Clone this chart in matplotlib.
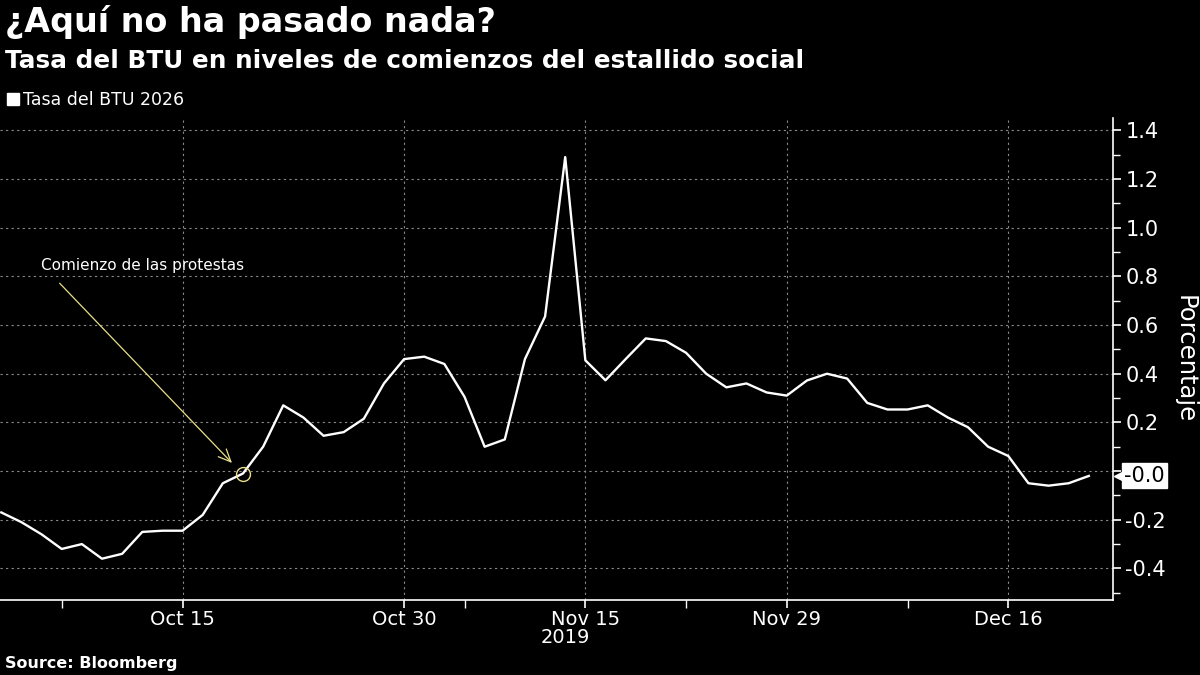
"""
Tasa del BTU 2026 (Chile), oct-dic 2019, estilo Bloomberg.
Salida: out.png (1200x675)
"""

import matplotlib
matplotlib.use("Agg")
import matplotlib.pyplot as plt
from matplotlib.lines import Line2D
from matplotlib.ticker import MultipleLocator, FixedLocator
from matplotlib.transforms import offset_copy
import numpy as np

# días hábiles (31 oct y 1 nov feriados)
dates = [
    "Oct 2", "Oct 3", "Oct 4", "Oct 7", "Oct 8", "Oct 9", "Oct 10", "Oct 11",
    "Oct 14", "Oct 15", "Oct 16", "Oct 17", "Oct 18", "Oct 21", "Oct 22",
    "Oct 23", "Oct 24", "Oct 25", "Oct 28", "Oct 29", "Oct 30",
    "Nov 4", "Nov 6", "Nov 7", "Nov 8", "Nov 11", "Nov 12", "Nov 13",
    "Nov 14", "Nov 15", "Nov 18", "Nov 19", "Nov 20", "Nov 21", "Nov 22",
    "Nov 25", "Nov 26", "Nov 27", "Nov 28", "Nov 29",
    "Dec 2", "Dec 3", "Dec 4", "Dec 5", "Dec 6", "Dec 9", "Dec 10",
    "Dec 11", "Dec 12", "Dec 13", "Dec 16", "Dec 17", "Dec 18", "Dec 19",
    "Dec 20",
]
btu_2026 = [
    -0.17, -0.21, -0.26, -0.32, -0.30, -0.36, -0.34, -0.25,
    -0.245, -0.245, -0.18, -0.05, -0.01, 0.10, 0.27,
    0.22, 0.145, 0.16, 0.215, 0.36, 0.46,
    0.47, 0.44, 0.305, 0.10, 0.13, 0.46, 0.635,
    1.29, 0.455, 0.373, 0.46, 0.545, 0.534, 0.486,
    0.40, 0.344, 0.36, 0.323, 0.31,
    0.372, 0.40, 0.38, 0.28, 0.253, 0.253, 0.27,
    0.22, 0.18, 0.10, 0.062, -0.05, -0.06, -0.05,
    -0.02,
]
tick_dates = ["Oct 15", "Oct 30", "Nov 15", "Nov 29", "Dec 16"]
minor_dates = ["Oct 7", "Nov 7", "Nov 22", "Dec 9"]
year_label = ("Nov 14", "2019")
event_date = "Oct 18"
event_text = "Comienzo de las protestas"

BG = "black"
FG = "white"
YELLOW = "#e8e08a"

plt.rcParams["font.family"] = ["DejaVu Sans"]
plt.rcParams["axes.unicode_minus"] = False


def main():
    x = np.arange(len(dates))
    pos = {d: i for i, d in enumerate(dates)}

    fig = plt.figure(figsize=(12, 6.75), dpi=100, facecolor=BG)
    ax = fig.add_axes([0.0, 0.111, 0.9275, 0.714], facecolor=BG)

    ax.plot(x, btu_2026, color=FG, lw=1.7, zorder=3)

    ax.set_xlim(-0.065, 55.2)
    ax.set_ylim(-0.53, 1.45)

    # ejes
    for side in ("left", "top"):
        ax.spines[side].set_visible(False)
    for side in ("right", "bottom"):
        ax.spines[side].set_color(FG)
        ax.spines[side].set_linewidth(1.2)

    ax.yaxis.tick_right()
    ax.yaxis.set_label_position("right")
    ax.yaxis.set_major_locator(MultipleLocator(0.2))
    ax.yaxis.set_minor_locator(MultipleLocator(0.1))
    ax.yaxis.set_major_formatter(
        lambda v, p: "" if abs(v) < 1e-9 else f"{v:.1f}")
    ax.tick_params(axis="y", which="major", colors=FG, labelsize=15,
                   length=6, width=1.2, pad=3)
    ax.tick_params(axis="y", which="minor", colors=FG, length=5, width=1)

    ax.xaxis.set_major_locator(FixedLocator([pos[d] for d in tick_dates]))
    ax.set_xticklabels(tick_dates)
    ax.xaxis.set_minor_locator(FixedLocator([pos[d] for d in minor_dates]))
    ax.tick_params(axis="x", which="major", colors=FG, labelsize=14,
                   length=6, width=1.2, pad=1)
    ax.tick_params(axis="x", which="minor", colors=FG, length=6, width=1)

    ax.grid(True, which="major", color="#8a8a8a", ls=(0, (2, 3)), lw=0.8)
    ax.set_axisbelow(True)

    ax.set_ylabel("Porcentaje", color=FG, fontsize=17.5, rotation=270,
                  labelpad=22)

    # año bajo el eje
    ax.text(pos[year_label[0]], -0.077, year_label[1], color=FG, fontsize=14,
            ha="center", va="center", transform=ax.get_xaxis_transform())

    # valor actual
    last = btu_2026[-1]
    edge = ax.get_yaxis_transform()
    ax.plot([1.0], [last], marker="<", ms=16, color=FG, mec=FG,
            transform=offset_copy(edge, fig=fig, x=8.6, units="points"),
            clip_on=False, zorder=5)
    ax.annotate(f"{last:.1f}", xy=(1.0, last), xycoords=edge,
                xytext=(8, 0), textcoords="offset points",
                ha="left", va="center", fontsize=15, color="black",
                bbox=dict(boxstyle="square,pad=0.12", fc=FG, ec=FG),
                annotation_clip=False, zorder=6)

    # anotación de protestas
    ei = pos[event_date]
    ev = btu_2026[ei]
    ax.plot([ei], [ev], marker="o", ms=10, mfc="none", mec=YELLOW, mew=1,
            zorder=4)
    ax.annotate("", xy=(ei - 0.45, ev + 0.035), xytext=(2.8, 0.78),
                arrowprops=dict(arrowstyle="->,head_length=0.9,head_width=0.4",
                                color=YELLOW, lw=0.9))
    ax.text(1.95, 0.815, event_text, color=FG, fontsize=11, ha="left",
            va="bottom")

    # títulos
    fig.text(0.004, 0.992, "¿Aquí no ha pasado nada?", color=FG,
             fontsize=24, fontweight="bold", ha="left", va="top")
    fig.text(0.004, 0.928, "Tasa del BTU en niveles de comienzos del estallido social",
             color=FG, fontsize=17.8, fontweight="bold", ha="left", va="top")

    handle = Line2D([], [], ls="none", marker="s", ms=8, mfc=FG, mec=FG)
    leg = fig.legend([handle], ["Tasa del BTU 2026"], loc="upper left",
                     bbox_to_anchor=(0.0, 0.875), frameon=False,
                     fontsize=12.5, handlelength=0.7, handletextpad=0.2,
                     borderaxespad=0)
    for t in leg.get_texts():
        t.set_color(FG)

    fig.text(0.004, 0.006, "Source: Bloomberg", color=FG, fontsize=11.5,
             fontweight="bold", ha="left", va="bottom")

    fig.savefig("out.png", dpi=100, facecolor=BG)
    plt.close(fig)


if __name__ == "__main__":
    main()
